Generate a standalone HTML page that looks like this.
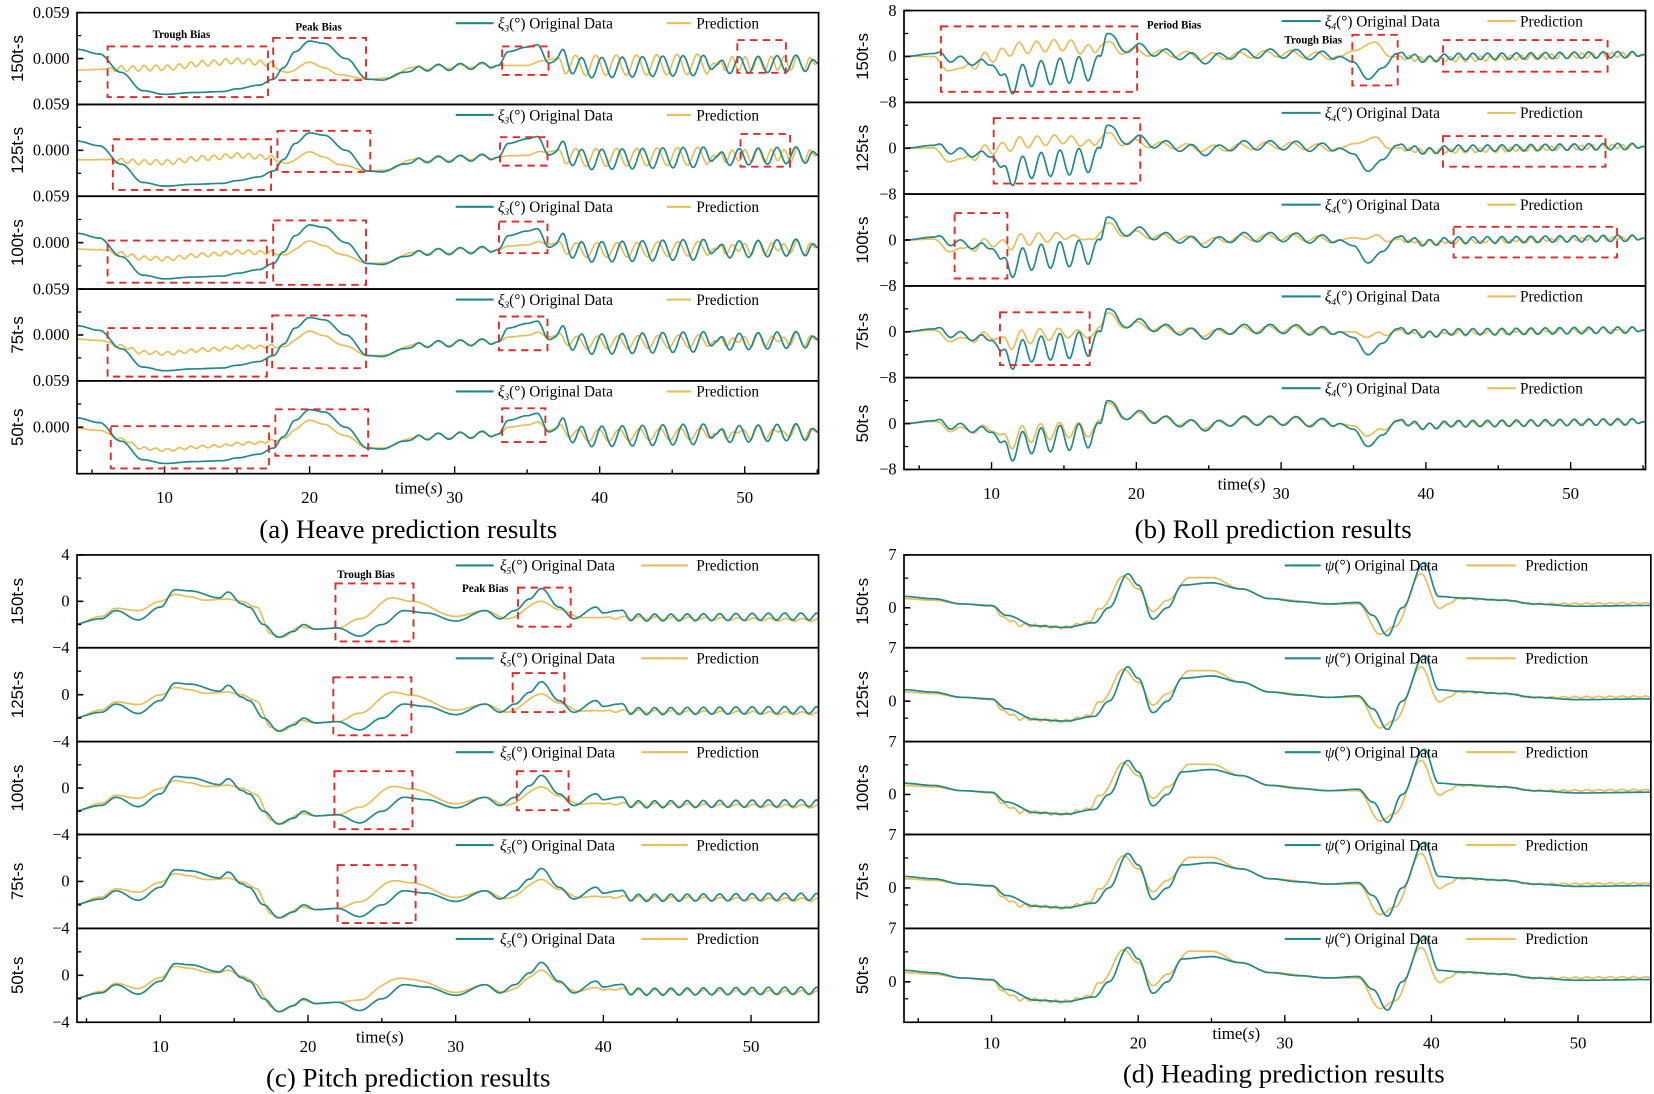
<!DOCTYPE html>
<html><head><meta charset="utf-8"><style>
html,body{margin:0;padding:0;background:#fff;overflow:hidden}
svg{display:block}
text{font-family:"Liberation Serif",serif;fill:#000}
.sans{font-family:"Liberation Sans",sans-serif}
</style></head><body>
<svg id="s" width="1654" height="1094" viewBox="0 0 1568 1037" preserveAspectRatio="none" xmlns="http://www.w3.org/2000/svg"></svg>
<script>
const S=document.getElementById('s');
let H='';
function ci(p,t){if(t<=p[0][0])return p[0][1];for(let i=0;i<p.length-1;i++){const a=p[i],b=p[i+1];if(t<=b[0]){const u=(t-a[0])/(b[0]-a[0]);return a[1]+(b[1]-a[1])*(1-Math.cos(Math.PI*u))/2;}}return p[p.length-1][1];}
function osc(t,segs){let s=0;for(const g of segs){const[t0,t1,a,per,ph]=g;if(t<t0||t>t1)continue;let e=Math.min(1,(t-t0)/0.6,(t1-t)/0.6);s+=a*e*Math.sin(2*Math.PI*((t-t0)/per+(ph||0)));}return s;}
function mk(kp,os){return t=>ci(kp,t)+osc(t,os);}
const TEAL='#23888a',GOLD='#e6bf5c',RED='#e02a2a';
const panels=[
{X:t=>156+(t-10)*13.75,x0:73,x1:776,tops:[12,99,186,274,361],bot:449,vmax:1,vmin:-1,
 O:mk([[4,.2],[5.5,.1],[7,-.3],[8.5,-.7],[10,-.78],[12,-.74],[14,-.72],[15,-.66],[16.5,-.58],[17.5,-.45],[18.2,-.2],[19,.15],[20,.38],[21,.33],[22.5,0],[24,-.45],[25,-.47],[26.5,-.3],[28,-.2],[33,-.15],[33.7,.15],[35,.25],[35.7,.3],[36.5,-.1],[37.5,.05],[38.5,-.2],[48,-.15],[55,-.1]],[[27,33,.07,1.5],[37,48,.22,1.4],[48,55,.18,1.3]]),
 P:mk([[4,-.25],[7,-.22],[10,-.2],[13,-.1],[15,-.05],[17,-.1],[18.5,-.3],[20,-.08],[21,-.2],[22,-.35],[24,-.45],[25.5,-.42],[27,-.2],[33,-.15],[35,-.15],[36,-.05],[37,0],[38,-.15],[55,-.1]],[[6,18,.06,0.8],[27,33,.04,1.5],[37,48,.22,1.4,.3],[48,55,.15,0.9]]),
 alpha:[0,.1,.25,.35,.5],ticks:[["0.059","top"],["0.000","mid"]],ylx:66,rlx:17,
 legend:{l1:432,l2:468,tx:472,g1:632,g2:655,px:660,sym:'ξ',sub:'3'},
 labels:["150t-s","125t-s","100t-s","75t-s","50t-s"],
 boxes:[[102,44,254,92],[259,36,347,76],[476,44,520,71],[699,38,745,69],[107,132,257,180],[263,124,351,163],[474,130,519,157],[702,127,749,158],[102,228,253,268],[259,209,347,270],[473,210,519,240],[102,311,253,357],[258,299,347,349],[473,300,519,332],[105,404,255,444],[261,388,349,432],[476,387,517,419]],
 notes:[["Trough Bias",172,36],["Peak Bias",302,29]],
 title:["(a) Heave prediction results",387,510],time:[397,468],tl:472},
{X:t=>940+(t-10)*13.725,x0:857,x1:1560,tops:[10,97,184,271,358],bot:445,vmax:8,vmin:-8,
 O:mk([[4,0],[6,.5],[7.5,-.5],[9,-1],[10,-1.5],[11,-4.5],[13,-3],[15,-2.5],[17,-2],[17.5,0],[18,4],[19,1.5],[20,1.5],[22,.5],[25,-.5],[27,.5],[30,.5],[34,0],[35,-1],[36,-4],[37,-2],[38,.5],[40,-.5],[42,0],[55,.3]],[[6,10,.6,1.5],[10.5,17.5,2.2,1.3],[18,34,.8,1.8],[38,55,.55,1.0]]),
 P:mk([[4,0],[6,0],[7,-2.5],[8,-2],[10,0],[12,1.5],[15,2],[17,1],[18,2.5],[19,1],[22,.5],[25,0],[30,.5],[34,0],[35,1],[36.5,2.5],[37.5,0],[40,-.5],[55,.3]],[[8,17.5,1.0,1.2],[18,34,.6,1.8,.2],[38,55,.45,0.7]]),
 alpha:[0,.1,.3,.5,.7],ticks:[["8","first"],["0","mid"],["−8","bot"]],ylx:850,rlx:818,
 legend:{l1:1215,l2:1252,tx:1256,g1:1410,g2:1437,px:1441,sym:'ξ',sub:'4'},
 labels:["150t-s","125t-s","100t-s","75t-s","50t-s"],
 boxes:[[892,25,1078,87],[1282,33,1325,81],[1368,38,1524,68],[942,112,1081,174],[1368,129,1522,158],[905,202,955,264],[1378,215,1533,244],[948,296,1033,346]],
 notes:[["Period Bias",1113,27],["Trough Bias",1245,41]],
 title:["(b) Roll prediction results",1207,510],time:[1177,464],tl:468},
{X:t=>152+(t-10)*14.0,x0:73,x1:776,tops:[526,614,703,791,880],bot:969,vmax:4,vmin:-4,
 O:mk([[4,-2],[6,-1.5],[7,-.8],[8.5,-1.6],[10,-.5],[11,1],[12,.9],[14,.3],[14.6,.8],[15.5,-.2],[16,-.5],[17,-2],[18,-3.1],[19,-2.6],[19.7,-2],[20.5,-2.4],[22,-2.3],[23.5,-3],[25,-2],[26.5,-.8],[28,-1],[30,-1.7],[32,-.8],[33,-1.5],[34,-.8],[35,.2],[35.8,1.1],[37,-.5],[38,-1.5],[39.5,-.5],[40,-1],[41,-.8],[42,-1.4],[55,-1.3]],[[41,55,.3,1.1]]),
 P:mk([[4,-2.1],[6,-1.3],[7,-.6],[8.5,-.8],[10,0],[11,.6],[12,.4],[13,.1],[14.5,.2],[15.5,0],[16.5,-.5],[17.5,-2.8],[18.2,-3.1],[19.5,-2.2],[20.5,-2.4],[22,-2.3],[23.5,-1.5],[25.7,.3],[27,0],[30,-1.3],[32,-.8],[33.5,-1.5],[35.8,0],[37,-.7],[38.5,-1.4],[55,-1.6]],[[40,55,.12,1.1]]),
 alpha:[0,.05,.1,.15,.4],ticks:[["4","first"],["0","mid"],["−4","bot"]],ylx:66,rlx:17,
 legend:{l1:432,l2:468,tx:474,g1:608,g2:652,px:660,sym:'ξ',sub:'5'},
 labels:["150t-s","125t-s","100t-s","75t-s","50t-s"],
 boxes:[[318,553,392,608],[491,557,541,594],[316,642,390,697],[486,638,535,675],[317,731,391,786],[490,731,539,768],[320,820,394,875]],
 notes:[["Trough Bias",347,548],["Peak Bias",460,561]],
 title:["(c) Pitch prediction results",387,1030],time:[360,988],tl:992},
{X:t=>940+(t-10)*13.9,x0:857,x1:1565,tops:[526,614,703,791,880],bot:969,vmax:7,vmin:-5.3,
 O:mk([[4,1.5],[6,1.2],[8,.5],[10,.3],[11,-1],[13,-2.4],[15,-2.6],[17,-2],[18,0],[19.3,4.5],[20,3],[21,-1.5],[22,0],[23,3],[25,3.3],[27,2.5],[29,1.2],[31,.8],[33,.5],[35,.7],[36,-1],[37,-3.7],[38,0],[39.5,6],[40.5,1.5],[42,1.3],[45,1],[47,.5],[50,.2],[55,.3]],[]),
 P:mk([[4,1.2],[6,1],[8,.5],[10,.2],[11,-1.5],[12,-2.3],[15,-2.6],[16.5,-2],[17.5,0],[19,4.2],[20,2.5],[21,-.5],[22,1],[23.5,4],[25,4],[27,2.5],[29,1.2],[33,.5],[35,.5],[36.5,-3.5],[37.5,-2.5],[39.3,4.5],[40.5,0],[42,1.2],[45,1],[47,.5],[55,.6]],[[10,18,.2,0.7],[40,55,.1,0.8]]),
 alpha:[0,0,0,0,0],ticks:[["7","top"],["0","zero"]],ylx:850,rlx:818,
 legend:{l1:1218,l2:1252,tx:1256,g1:1390,g2:1437,px:1446,sym:'ψ',sub:''},
 labels:["150t-s","125t-s","100t-s","75t-s","50t-s"],
 boxes:[],notes:[],
 title:["(d) Heading prediction results",1217,1026],time:[1172,985],tl:989}
];
let cid=0;
for(const P of panels){
 for(let r=0;r<5;r++){
  const top=P.tops[r],bot=r<4?P.tops[r+1]:P.bot,h=bot-top;
  const Y=v=>top+(P.vmax-v)/(P.vmax-P.vmin)*h;
  cid++;
  H+=`<clipPath id="c${cid}"><rect x="${P.x0}" y="${top}" width="${P.x1-P.x0}" height="${h}"/></clipPath>`;
  const a=P.alpha[r];
  let po='',pp='';
  for(let t=3.5;t<=56;t+=0.05){
   const o=P.O(t),p=P.P(t)*(1-a)+o*a;
   const x=P.X(t).toFixed(1);
   po+=(po?'L':'M')+x+' '+Y(o).toFixed(1);
   pp+=(pp?'L':'M')+x+' '+Y(p).toFixed(1);
  }
  H+=`<g clip-path="url(#c${cid})"><path d="${pp}" fill="none" stroke="${GOLD}" stroke-width="1.6"/><path d="${po}" fill="none" stroke="${TEAL}" stroke-width="1.6"/></g>`;
  const L=P.legend,ly=top+10;
  H+=`<line x1="${L.l1}" y1="${ly}" x2="${L.l2}" y2="${ly}" stroke="${TEAL}" stroke-width="2"/>`;
  H+=`<text x="${L.tx}" y="${ly+5}" font-size="14.5"><tspan font-style="italic">${L.sym}</tspan>${L.sub?`<tspan font-style="italic" font-size="9" dy="3">${L.sub}</tspan><tspan dy="-3">`:'<tspan>'}(°) Original Data</tspan></text>`;
  H+=`<line x1="${L.g1}" y1="${ly}" x2="${L.g2}" y2="${ly}" stroke="${GOLD}" stroke-width="2"/>`;
  H+=`<text x="${L.px}" y="${ly+5}" font-size="14.5">Prediction</text>`;
  const cy=top+h/2;
  H+=`<text class="sans" x="${P.rlx}" y="${cy}" font-size="16" text-anchor="middle" transform="rotate(-90 ${P.rlx} ${cy})" dy="5">${P.labels[r]}</text>`;
  for(const [lab,pos] of P.ticks){
   let yy=null;
   if(pos=='top')yy=top;
   if(pos=='first'&&r==0)yy=top;
   if(pos=='mid')yy=top+h/2;
   if(pos=='zero')yy=Y(0);
   if(pos=='bot')yy=bot;
   if(yy===null)continue;
   H+=`<text x="${P.ylx}" y="${yy+5}" font-size="15.5" text-anchor="end">${lab}</text>`;
   H+=`<line x1="${P.x0}" y1="${yy}" x2="${P.x0+6}" y2="${yy}" stroke="#000" stroke-width="1.5"/>`;
  }
  H+=`<line x1="${P.x0}" y1="${top+h/4}" x2="${P.x0+4}" y2="${top+h/4}" stroke="#000" stroke-width="1.2"/>`;
  H+=`<line x1="${P.x0}" y1="${top+3*h/4}" x2="${P.x0+4}" y2="${top+3*h/4}" stroke="#000" stroke-width="1.2"/>`;
  H+=`<rect x="${P.x0}" y="${top}" width="${P.x1-P.x0}" height="${h}" fill="none" stroke="#000" stroke-width="1.6"/>`;
 }
 for(let t=5;t<=55;t+=5){const x=P.X(t);if(x<P.x0||x>P.x1)continue;const L=t%10==0?7:4;H+=`<line x1="${x}" y1="${P.bot}" x2="${x}" y2="${P.bot-L}" stroke="#000" stroke-width="1.3"/>`;}
 for(let t=10;t<=50;t+=10){H+=`<text x="${P.X(t)}" y="${P.tl+5}" font-size="16" text-anchor="middle">${t}</text>`;}
 H+=`<text x="${P.time[0]}" y="${P.time[1]}" font-size="16" text-anchor="middle">time(<tspan font-style="italic">s</tspan>)</text>`;
 for(const b of P.boxes){H+=`<rect x="${b[0]}" y="${b[1]}" width="${b[2]-b[0]}" height="${b[3]-b[1]}" fill="none" stroke="${RED}" stroke-width="1.8" stroke-dasharray="7 5"/>`;}
 for(const n of P.notes){H+=`<text x="${n[1]}" y="${n[2]}" font-size="10.5" font-weight="bold" text-anchor="middle">${n[0]}</text>`;}
 H+=`<text x="${P.title[1]}" y="${P.title[2]}" font-size="25.5" text-anchor="middle">${P.title[0]}</text>`;
}
S.innerHTML=H;
</script>
</body></html>
